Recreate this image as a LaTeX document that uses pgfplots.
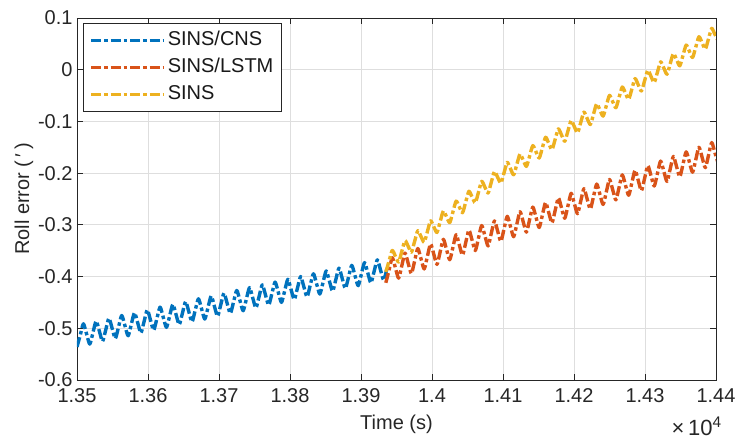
\documentclass[border=0pt]{standalone}
\usepackage{fontspec}
\setmainfont{Liberation Sans}
\usepackage{pgfplots}
\usepackage{pgfplotstable}
\pgfplotsset{compat=1.18}
\definecolor{mblue}{rgb}{0,0.447,0.741}
\definecolor{morange}{rgb}{0.85,0.325,0.098}
\definecolor{myellow}{rgb}{0.929,0.694,0.125}
\definecolor{gridgray}{RGB}{222,222,222}
\definecolor{axgray}{RGB}{38,38,38}

\pgfplotstableread{
x y
13500 -0.5360
13504.5 -0.5137
13509 -0.4913
13513.5 -0.5110
13518 -0.5306
13522.5 -0.5083
13527 -0.4859
13531.5 -0.5056
13536 -0.5252
13540.5 -0.5029
13545 -0.4806
13549.5 -0.5002
13554 -0.5199
13558.5 -0.4975
13563 -0.4752
13567.5 -0.4948
13572 -0.5145
13576.5 -0.4921
13581 -0.4698
13585.5 -0.4894
13590 -0.5091
13594.5 -0.4868
13599 -0.4644
13603.5 -0.4841
13608 -0.5037
13612.5 -0.4814
13617 -0.4590
13621.5 -0.4787
13626 -0.4983
13630.5 -0.4760
13635 -0.4537
13639.5 -0.4733
13644 -0.4930
13648.5 -0.4706
13653 -0.4483
13657.5 -0.4679
13662 -0.4876
13666.5 -0.4652
13671 -0.4429
13675.5 -0.4625
13680 -0.4822
13684.5 -0.4599
13689 -0.4375
13693.5 -0.4572
13698 -0.4768
13702.5 -0.4545
13707 -0.4321
13711.5 -0.4518
13716 -0.4714
13720.5 -0.4491
13725 -0.4268
13729.5 -0.4464
13734 -0.4661
13738.5 -0.4437
13743 -0.4214
13747.5 -0.4410
13752 -0.4607
13756.5 -0.4383
13761 -0.4160
13765.5 -0.4356
13770 -0.4553
13774.5 -0.4330
13779 -0.4106
13783.5 -0.4303
13788 -0.4499
13792.5 -0.4276
13797 -0.4052
13801.5 -0.4249
13806 -0.4445
13810.5 -0.4222
13815 -0.3999
13819.5 -0.4195
13824 -0.4392
13828.5 -0.4168
13833 -0.3945
13837.5 -0.4141
13842 -0.4338
13846.5 -0.4114
13851 -0.3891
13855.5 -0.4087
13860 -0.4284
13864.5 -0.4061
13869 -0.3837
13873.5 -0.4034
13878 -0.4230
13882.5 -0.4007
13887 -0.3783
13891.5 -0.3980
13896 -0.4176
13900.5 -0.3953
13905 -0.3730
13909.5 -0.3926
13914 -0.4123
13918.5 -0.3899
13923 -0.3676
13927.5 -0.3872
13932 -0.4069
13936.5 -0.3845
}\cnsdata

\pgfplotstableread{
x y
13935 -0.4120
13939.5 -0.3878
13944 -0.3635
13948.5 -0.3833
13953 -0.4031
13957.5 -0.3789
13962 -0.3546
13966.5 -0.3744
13971 -0.3942
13975.5 -0.3700
13980 -0.3457
13984.5 -0.3655
13989 -0.3853
13993.5 -0.3611
13998 -0.3368
14002.5 -0.3566
14007 -0.3764
14011.5 -0.3522
14016 -0.3279
14020.5 -0.3477
14025 -0.3675
14029.5 -0.3433
14034 -0.3190
14038.5 -0.3388
14043 -0.3586
14047.5 -0.3344
14052 -0.3101
14056.5 -0.3299
14061 -0.3497
14065.5 -0.3254
14070 -0.3012
14074.5 -0.3210
14079 -0.3408
14083.5 -0.3165
14088 -0.2923
14092.5 -0.3121
14097 -0.3319
14101.5 -0.3076
14106 -0.2834
14110.5 -0.3032
14115 -0.3230
14119.5 -0.2987
14124 -0.2745
14128.5 -0.2943
14133 -0.3141
14137.5 -0.2898
14142 -0.2656
14146.5 -0.2854
14151 -0.3052
14155.5 -0.2809
14160 -0.2567
14164.5 -0.2765
14169 -0.2962
14173.5 -0.2720
14178 -0.2478
14182.5 -0.2676
14187 -0.2873
14191.5 -0.2631
14196 -0.2389
14200.5 -0.2587
14205 -0.2784
14209.5 -0.2542
14214 -0.2300
14218.5 -0.2498
14223 -0.2695
14227.5 -0.2453
14232 -0.2211
14236.5 -0.2409
14241 -0.2606
14245.5 -0.2364
14250 -0.2122
14254.5 -0.2320
14259 -0.2517
14263.5 -0.2275
14268 -0.2033
14272.5 -0.2231
14277 -0.2428
14281.5 -0.2186
14286 -0.1944
14290.5 -0.2141
14295 -0.2339
14299.5 -0.2097
14304 -0.1855
14308.5 -0.2052
14313 -0.2250
14317.5 -0.2008
14322 -0.1766
14326.5 -0.1963
14331 -0.2161
14335.5 -0.1919
14340 -0.1677
14344.5 -0.1874
14349 -0.2072
14353.5 -0.1830
14358 -0.1588
14362.5 -0.1785
14367 -0.1983
14371.5 -0.1741
14376 -0.1499
14380.5 -0.1696
14385 -0.1894
14389.5 -0.1652
14394 -0.1409
14398.5 -0.1607
14403 -0.1805
}\lstmdata

\pgfplotstableread{
x y
13935 -0.3910
13939.5 -0.3702
13944 -0.3495
13948.5 -0.3607
13953 -0.3719
13957.5 -0.3512
13962 -0.3304
13966.5 -0.3416
13971 -0.3528
13975.5 -0.3321
13980 -0.3113
13984.5 -0.3225
13989 -0.3338
13993.5 -0.3130
13998 -0.2922
14002.5 -0.3035
14007 -0.3147
14011.5 -0.2939
14016 -0.2731
14020.5 -0.2844
14025 -0.2956
14029.5 -0.2748
14034 -0.2541
14038.5 -0.2653
14043 -0.2765
14047.5 -0.2558
14052 -0.2350
14056.5 -0.2462
14061 -0.2574
14065.5 -0.2367
14070 -0.2159
14074.5 -0.2271
14079 -0.2384
14083.5 -0.2176
14088 -0.1968
14092.5 -0.2081
14097 -0.2193
14101.5 -0.1993
14106 -0.1792
14110.5 -0.1912
14115 -0.2031
14119.5 -0.1831
14124 -0.1630
14128.5 -0.1750
14133 -0.1869
14137.5 -0.1669
14142 -0.1468
14146.5 -0.1588
14151 -0.1707
14155.5 -0.1507
14160 -0.1306
14164.5 -0.1426
14169 -0.1545
14173.5 -0.1345
14178 -0.1144
14182.5 -0.1264
14187 -0.1383
14191.5 -0.1183
14196 -0.0982
14200.5 -0.1102
14205 -0.1221
14209.5 -0.1021
14214 -0.0820
14218.5 -0.0940
14223 -0.1059
14227.5 -0.0859
14232 -0.0658
14236.5 -0.0778
14241 -0.0897
14245.5 -0.0697
14250 -0.0496
14254.5 -0.0616
14259 -0.0735
14263.5 -0.0535
14268 -0.0334
14272.5 -0.0454
14277 -0.0573
14281.5 -0.0373
14286 -0.0172
14290.5 -0.0292
14295 -0.0411
14299.5 -0.0211
14304 -0.0010
14308.5 -0.0130
14313 -0.0249
14317.5 -0.0049
14322 0.0152
14326.5 0.0033
14331 -0.0087
14335.5 0.0114
14340 0.0314
14344.5 0.0195
14349 0.0075
14353.5 0.0276
14358 0.0476
14362.5 0.0357
14367 0.0237
14371.5 0.0438
14376 0.0638
14380.5 0.0519
14385 0.0399
14389.5 0.0600
14394 0.0800
14398.5 0.0681
14403 0.0561
}\sinsdata

\tikzset{dashdot/.style={line width=3.4pt, line cap=butt, line join=round,
    dash pattern=on 10pt off 3pt on 3.5pt off 3pt}}

\begin{document}
\begin{tikzpicture}
\useasboundingbox (-77pt,-60pt) rectangle (660pt,380pt);
\begin{axis}[
  scale only axis,
  width=639pt, height=362pt,
  xmin=13500, xmax=14400,
  ymin=-0.6, ymax=0.1,
  xtick={13500,13600,13700,13800,13900,14000,14100,14200,14300,14400},
  xticklabels={1.35,1.36,1.37,1.38,1.39,1.4,1.41,1.42,1.43,1.44},
  ytick={-0.6,-0.5,-0.4,-0.3,-0.2,-0.1,0,0.1},
  yticklabels={-0.6,-0.5,-0.4,-0.3,-0.2,-0.1,0,0.1},
  scaled x ticks=false,
  font=\fontsize{20}{24}\selectfont,
  tick label style={font=\fontsize{20}{24}\selectfont, text=black!85},
  xticklabel style={yshift=-5pt},
  yticklabel style={xshift=-1pt},
  tick align=inside,
  tick pos=both,
  major tick length=6pt,
  every tick/.style={axgray, line width=0.8pt},
  axis line style={axgray, line width=0.9pt},
  grid=major,
  major grid style={gridgray, line width=0.8pt},
  xlabel={Time (s)},
  ylabel={Roll error (\,′\,)},
  xlabel style={at={(axis description cs:0.5,-0.138)}, anchor=base, text=black!85},
  ylabel style={at={(axis description cs:-0.075,0.5)}, anchor=base, text=black!85},
  legend style={at={(axis description cs:0.0094,0.986)}, anchor=north west,
    draw=axgray, line width=0.8pt, fill=white,
    font=\fontsize{20}{24}\selectfont, text=black!90,
    inner xsep=6pt, inner ysep=6pt, row sep=5pt,
    nodes={inner sep=2pt, text height=14pt, text depth=4pt}},
  legend cell align=left,
  legend image code/.code={\draw[#1] (0pt,0pt) -- (73pt,0pt);},
]
\addplot[mblue, no markers, dashdot, smooth, tension=0.4] table[x=x,y=y] {\cnsdata};
\addlegendentry{SINS/CNS}
\addplot[morange, no markers, dashdot, smooth, tension=0.4] table[x=x,y=y] {\lstmdata};
\addlegendentry{SINS/LSTM}
\addplot[myellow, no markers, dashdot, smooth, tension=0.4] table[x=x,y=y] {\sinsdata};
\addlegendentry{SINS}
\end{axis}
\node[anchor=base east, font=\fontsize{22}{26}\selectfont, text=black!85, inner sep=0pt] at ([xshift=6pt,yshift=-55pt]current axis.south east) {×\,10\textsuperscript{4}};
\end{tikzpicture}
\end{document}
